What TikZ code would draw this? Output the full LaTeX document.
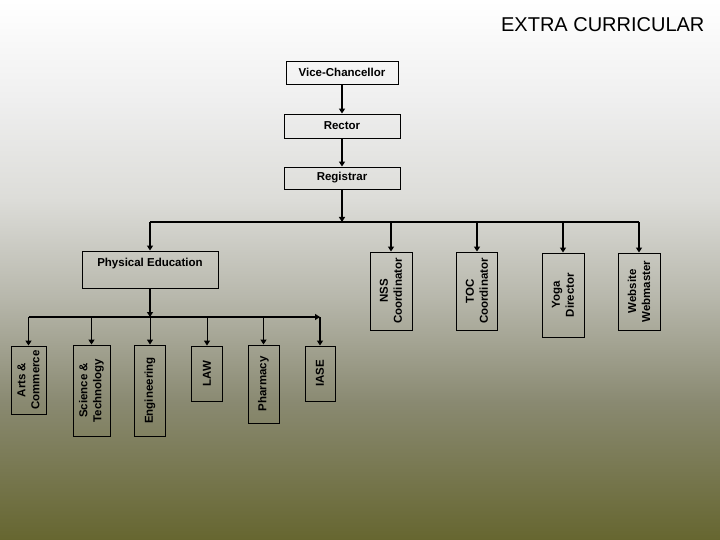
\documentclass[tikz,border=0pt]{standalone}
\usepackage{fontspec}
\setmainfont{Liberation Sans}
\usetikzlibrary{arrows.meta}
\definecolor{bgB}{RGB}{239,239,239}
\definecolor{bgC}{RGB}{220,220,216}
\definecolor{bgD}{RGB}{182,182,170}
\definecolor{bgE}{RGB}{138,138,114}
\definecolor{bgF}{RGB}{102,102,48}
\begin{document}
\begin{tikzpicture}[x=1pt,y=-1pt,
  box/.style={draw=black, line width=0.9pt, inner sep=0pt, font=\bfseries\fontsize{11.5}{14}\selectfont, align=center},
  vbox/.style={box, rotate=90},
  arr/.style={line width=1.6pt, -{Triangle[length=5pt,width=6pt]}},
  thinarr/.style={line width=0.9pt, -{Triangle[length=5pt,width=6pt]}},
  bus/.style={line width=1.6pt}]
% background
\useasboundingbox (0,0) rectangle (720,540);
\shade[top color=white, bottom color=bgB] (0,0) rectangle (720,101);
\shade[top color=bgB, bottom color=bgC] (0,100) rectangle (720,201);
\shade[top color=bgC, bottom color=bgD] (0,200) rectangle (720,301);
\shade[top color=bgD, bottom color=bgE] (0,300) rectangle (720,401);
\shade[top color=bgE, bottom color=bgF] (0,400) rectangle (720,540);

\node[anchor=base east, font=\fontsize{20}{24}\selectfont] (title) at (708,32) {EXTRA CURRICULAR};

\node[box, minimum width=112pt, minimum height=23pt] (vc) at (342,72.5) {Vice-Chancellor};
\node[box, minimum width=116pt, minimum height=24pt] (rector) at (342,126) {Rector};
\node[box, minimum width=116pt, minimum height=22pt] (reg) at (342,178) {Registrar};

\node[box, minimum width=136pt, minimum height=37pt] (pe) at (150,269.5) {Physical Education\\ \mbox{}};

\node[vbox, minimum width=78pt, minimum height=42pt] (nss) at (391,291) {NSS\\Coordinator};
\node[vbox, minimum width=78pt, minimum height=41pt] (toc) at (477,291) {TOC\\Coordinator};
\node[vbox, minimum width=84pt, minimum height=42pt] (yoga) at (563,295) {Yoga\\Director};
\node[vbox, minimum width=77pt, minimum height=42pt] (web) at (639,291.5) {Website\\Webmaster};

\node[vbox, minimum width=68pt, minimum height=35pt] (arts) at (28.5,380) {Arts \&\\Commerce};
\node[vbox, minimum width=91pt, minimum height=37pt] (sci) at (91.5,390.5) {Science \&\\Technology};
\node[vbox, minimum width=91pt, minimum height=31pt] (eng) at (150,390.5) {Engineering};
\node[vbox, minimum width=55pt, minimum height=31pt] (law) at (207,373.5) {LAW};
\node[vbox, minimum width=78pt, minimum height=31pt] (pharm) at (263.5,384) {Pharmacy};
\node[vbox, minimum width=55pt, minimum height=30pt] (iase) at (320,373.5) {IASE};

% connectors
\draw[arr] (vc) -- (rector);
\draw[arr] (rector) -- (reg);
\coordinate (r1) at (342,222);
\coordinate (bL) at (150,222);
\coordinate (bR) at (639,222);
\draw[arr] (reg) -- (r1);
\draw[bus] (bL) -- (bR);
\draw[arr] (bL) -- (pe);
\draw[arr] (nss |- bL) -- (nss);
\draw[arr] (toc |- bL) -- (toc);
\draw[arr] (yoga |- bL) -- (yoga);
\draw[arr] (bR) -- (web);

\coordinate (c2) at (150,317);
\coordinate (dL) at (28.5,317);
\coordinate (dR) at (320,317);
\draw[arr] (pe) -- (c2);
\draw[arr] (dL) -- (dR);
\draw[arr] (dR) -- (iase);
\draw[arr] (dL) -- (arts);
\draw[arr] (sci |- dL) -- (sci);
\draw[thinarr] (eng |- dL) -- (eng);
\draw[thinarr] (law |- dL) -- (law);
\draw[arr] (pharm |- dL) -- (pharm);
\end{tikzpicture}
\end{document}
